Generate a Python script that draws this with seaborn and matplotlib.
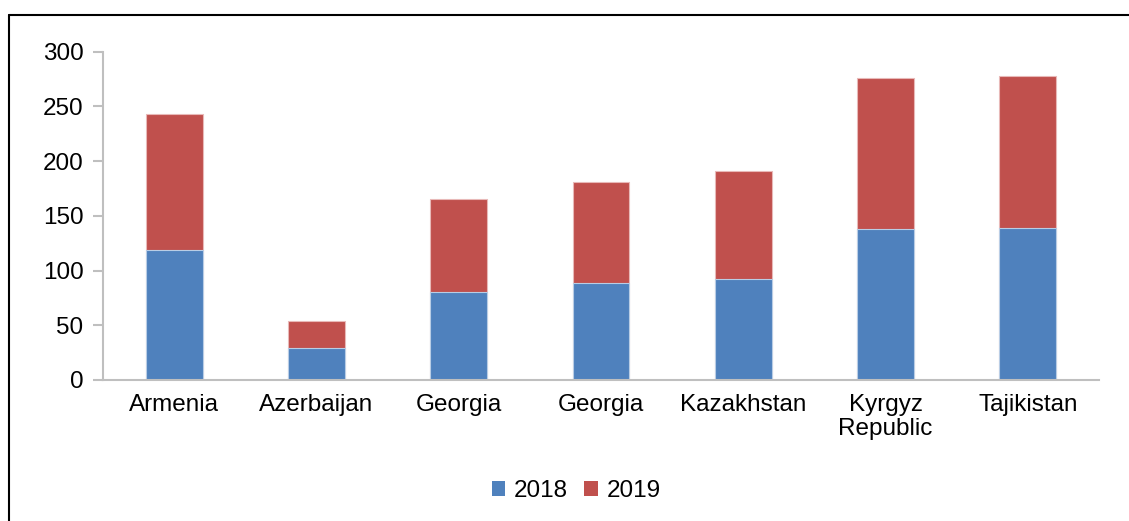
import numpy as np
import pandas as pd
import matplotlib
matplotlib.use("Agg")
import matplotlib.pyplot as plt
import seaborn as sns
from matplotlib.patches import Patch
from matplotlib.lines import Line2D

# --------------------------------------------
# Data
# --------------------------------------------
countries = ["Armenia", "Azerbaijan", "Georgia", "Georgia", "Kazakhstan",
             "Kyrgyz\nRepublic", "Tajikistan"]
v2018 = [119, 29, 80, 89, 92, 138, 139]
v2019 = [124, 25, 85, 92, 99, 138, 139]
years = ["2018", "2019"]
y_ticks = [0, 50, 100, 150, 200, 250, 300]

blue = "#4F81BD"
red = "#C0504D"
axis_grey = "#BFBFBF"
fs = 17.5

sns.set_style("white")
plt.rcParams["font.family"] = ["Liberation Sans", "DejaVu Sans"]
plt.rcParams["text.color"] = "black"
plt.rcParams["xtick.color"] = "black"
plt.rcParams["ytick.color"] = "black"

df = pd.DataFrame({
    "pos": list(range(len(countries))),
    "y2018": v2018,
    "y2019": v2019,
})
df["total"] = df["y2018"] + df["y2019"]

fig = plt.figure(figsize=(11.29, 5.21), dpi=100)
ax = fig.add_axes([103 / 1129, 141 / 521, 996 / 1129, 328.3 / 521])

# stacked bars: total (2019 on top) first, then 2018 over it
sns.barplot(data=df, x="pos", y="total", color=red, width=0.4, ax=ax,
            edgecolor="#E8B9B8", linewidth=0.8, saturation=1)
sns.barplot(data=df, x="pos", y="y2018", color=blue, width=0.4, ax=ax,
            edgecolor="#B9CDE5", linewidth=0.8, saturation=1)

ax.set_xlim(-0.5, len(countries) - 0.5)
ax.set_ylim(0, 300)
ax.set_yticks(y_ticks)
ax.set_xticks(range(len(countries)))
ax.set_xticklabels(countries, fontsize=fs, linespacing=1.15, color="black")
ax.tick_params(axis="y", labelsize=fs, length=7, width=1.5, color=axis_grey,
               labelcolor="black", direction="out", pad=7, left=True)
ax.tick_params(axis="x", length=0, pad=10)
ax.set_xlabel("")
ax.set_ylabel("")

for side in ["top", "right"]:
    ax.spines[side].set_visible(False)
for side in ["left", "bottom"]:
    ax.spines[side].set_color(axis_grey)
    ax.spines[side].set_linewidth(1.5)

# legend
handles = [Patch(facecolor=blue, edgecolor="none"),
           Patch(facecolor=red, edgecolor="none")]
fig.legend(handles, years, loc="center", bbox_to_anchor=(576 / 1129, 30 / 521),
           ncol=2, frameon=False, fontsize=fs, handlelength=0.55,
           handleheight=0.55, handletextpad=0.35, columnspacing=0.7)

# outer frame (cropped on the right and bottom)
x0 = 9 / 1129
y0 = 1 - 15 / 521
fig.add_artist(Line2D([x0, x0], [0, y0], transform=fig.transFigure,
                      color="black", linewidth=1.5))
fig.add_artist(Line2D([x0, 1], [y0, y0], transform=fig.transFigure,
                      color="black", linewidth=1.5))

fig.savefig("out.png", dpi=100)
plt.close(fig)
